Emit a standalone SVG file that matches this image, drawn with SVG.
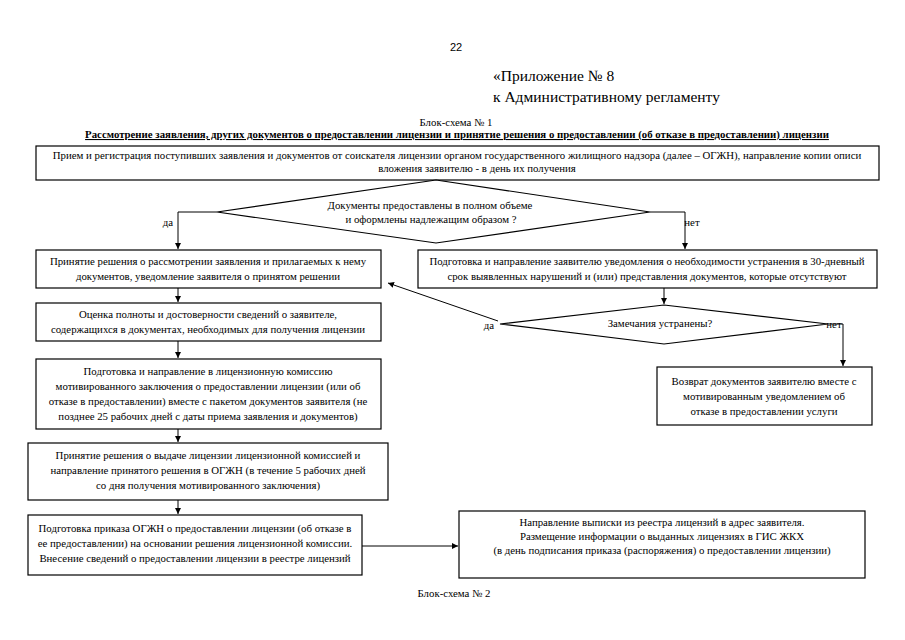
<svg xmlns="http://www.w3.org/2000/svg" width="905" height="640" viewBox="0 0 905 640">
<style>
.t{font-family:"Liberation Serif","Times New Roman",serif;font-size:10.8px;fill:#000}
.c{text-anchor:middle}
.b{fill:#fff;stroke:#000;stroke-width:1.2}
.l{fill:none;stroke:#000;stroke-width:1}
</style>
<defs>
<marker id="ah" viewBox="0 0 10 10" refX="10" refY="5" markerWidth="6" markerHeight="6" orient="auto" markerUnits="userSpaceOnUse">
<path d="M0,0 L10,5 L0,10 z" fill="#000"/>
</marker>
</defs>
<rect width="905" height="640" fill="#fff"/>
<g id="header">
<text x="456" y="51" font-family="Liberation Sans, Arial, sans-serif" font-size="11" text-anchor="middle">22</text>
<text x="493" y="81" font-family="Liberation Serif, serif" font-size="15.5">«Приложение № 8</text>
<text x="493" y="102" font-family="Liberation Serif, serif" font-size="15.5">к Административному регламенту</text>
<text x="456" y="126" class="t c">Блок-схема № 1</text>
<text x="457" y="138" class="t c" font-weight="bold" text-decoration="underline">Рассмотрение заявления, других документов о предоставлении лицензии и принятие решения о предоставлении (об отказе в предоставлении) лицензии</text>
</g>
<g id="connectors">
<path class="l" d="M217,212 H178 V249" marker-end="url(#ah)"/>
<path class="l" d="M650,212 H685 V249" marker-end="url(#ah)"/>
<path class="l" d="M178,288 V302" marker-end="url(#ah)"/>
<path class="l" d="M178,341 V358" marker-end="url(#ah)"/>
<path class="l" d="M178,429 V442" marker-end="url(#ah)"/>
<path class="l" d="M178,500 V514" marker-end="url(#ah)"/>
<path class="l" d="M664,288 V304" marker-end="url(#ah)"/>
<path class="l" d="M498,321 L388,283" marker-end="url(#ah)"/>
<path class="l" d="M828,324 H843 V366" marker-end="url(#ah)"/>
<path class="l" d="M362,546 H458" marker-end="url(#ah)"/>
<text x="168" y="226" class="t c">да</text>
<text x="692" y="226" class="t c">нет</text>
<text x="489" y="329" class="t c">да</text>
<text x="834" y="328" class="t c">нет</text>
</g>
<g id="n1">
<rect class="b" x="36" y="146" width="843" height="34"/>
<text x="457" y="159" class="t c">Прием и регистрация поступивших заявления и документов от соискателя лицензии  органом государственного жилищного надзора (далее – ОГЖН), направление копии описи</text>
<text x="477" y="172" class="t c">вложения заявителю  - в день их получения</text>
</g>
<g id="d1">
<polygon class="b" points="436,180 650,212 436,243 217,212"/>
<text x="430" y="209" class="t c">Документы предоставлены в полном объеме</text>
<text x="431" y="223" class="t c">и оформлены надлежащим образом ?</text>
</g>
<g id="n2">
<rect class="b" x="36" y="250" width="345" height="38"/>
<text x="208" y="265" class="t c">Принятие решения о рассмотрении заявления и прилагаемых к нему</text>
<text x="208" y="280" class="t c">документов, уведомление заявителя о принятом решении</text>
</g>
<g id="n3">
<rect class="b" x="418" y="250" width="459" height="38"/>
<text x="647" y="265" class="t c">Подготовка и направление заявителю уведомления о необходимости устранения в 30-дневный</text>
<text x="647" y="280" class="t c">срок выявленных нарушений и (или) представления документов, которые отсутствуют</text>
</g>
<g id="n4">
<rect class="b" x="36" y="303" width="345" height="38"/>
<text x="208" y="318" class="t c">Оценка полноты и достоверности сведений  о заявителе,</text>
<text x="208" y="333" class="t c">содержащихся в документах, необходимых для получения лицензии</text>
</g>
<g id="d2">
<polygon class="b" points="664,305 828,324 664,344 500,324"/>
<text x="660" y="327" class="t c">Замечания устранены?</text>
</g>
<g id="n5">
<rect class="b" x="36" y="359" width="345" height="70"/>
<text x="208" y="375" class="t c">Подготовка и направление  в лицензионную комиссию</text>
<text x="208" y="390" class="t c">мотивированного заключения о предоставлении лицензии (или об</text>
<text x="208" y="405" class="t c">отказе в предоставлении) вместе с пакетом документов заявителя (не</text>
<text x="208" y="420" class="t c">позднее 25 рабочих дней с даты приема заявления и документов)</text>
</g>
<g id="n6">
<rect class="b" x="657" y="367" width="215" height="58"/>
<text x="764" y="385" class="t c">Возврат документов заявителю вместе  с</text>
<text x="764" y="400" class="t c">мотивированным уведомлением об</text>
<text x="764" y="415" class="t c">отказе в предоставлении услуги</text>
</g>
<g id="n7">
<rect class="b" x="28" y="443" width="360" height="57"/>
<text x="208" y="459" class="t c">Принятие решения о выдаче лицензии лицензионной комиссией и</text>
<text x="208" y="474" class="t c">направление принятого решения в ОГЖН (в течение 5 рабочих дней</text>
<text x="208" y="489" class="t c">со дня получения мотивированного заключения)</text>
</g>
<g id="n8">
<rect class="b" x="28" y="515" width="334" height="60"/>
<text x="195" y="532" class="t c">Подготовка приказа ОГЖН  о предоставлении лицензии (об отказе в</text>
<text x="195" y="547" class="t c">ее предоставлении)  на основании решения лицензионной комиссии.</text>
<text x="195" y="562" class="t c">Внесение сведений о предоставлении лицензии в реестре лицензий</text>
</g>
<g id="n9">
<rect class="b" x="459" y="511" width="406" height="67"/>
<text x="662" y="526" class="t c">Направление выписки из реестра лицензий в адрес заявителя.</text>
<text x="662" y="540" class="t c">Размещение информации о выданных лицензиях в ГИС ЖКХ</text>
<text x="662" y="554" class="t c">(в день подписания приказа (распоряжения) о предоставлении лицензии)</text>
</g>
<text x="454" y="597" class="t c">Блок-схема № 2</text>
</svg>
